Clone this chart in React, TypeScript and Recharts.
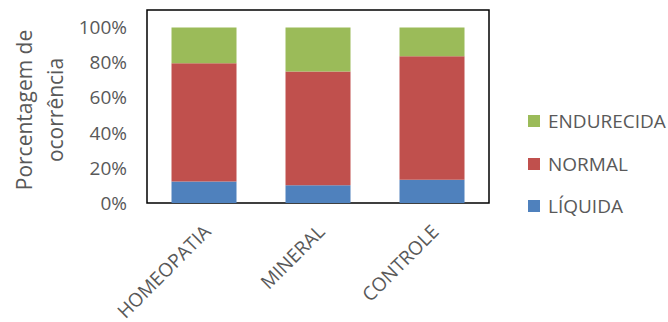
import React from "react";
import { BarChart, Bar, XAxis, YAxis, ReferenceArea } from "recharts";

const categories = ["HOMEOPATIA", "MINERAL", "CONTROLE"];
const liquida = [12.2, 10.1, 13.3];
const normal = [67.4, 64.9, 70.3];
const endurecida = [20.4, 25.0, 16.4];
const yTicks = [0, 20, 40, 60, 80, 100];

const seriesInfo = [
  { key: "liquida", name: "LÍQUIDA", color: "#4F81BD" },
  { key: "normal", name: "NORMAL", color: "#C0504D" },
  { key: "endurecida", name: "ENDURECIDA", color: "#9BBB59" },
];

const data = categories.map((c, i) => ({
  name: c,
  liquida: liquida[i],
  normal: normal[i],
  endurecida: endurecida[i],
}));

const FONT = "'Open Sans', sans-serif";
const TEXT = "#595959";

const XTick = ({ x, y, payload }: any) => {
  const ax = x + 8;
  const ay = y + 22;
  return (
    <text
      x={ax}
      y={ay}
      transform={`rotate(-45, ${ax}, ${ay})`}
      textAnchor="end"
      fill={TEXT}
      fontSize={19}
      fontFamily={FONT}
    >
      {payload.value}
    </text>
  );
};

const YLabel = () => (
  <g fill={TEXT} fontSize={21} fontFamily={FONT}>
    <text x={24} y={110} transform="rotate(-90, 24, 110)" textAnchor="middle" dominantBaseline="central">
      Porcentagem de
    </text>
    <text x={55} y={110} transform="rotate(-90, 55, 110)" textAnchor="middle" dominantBaseline="central">
      ocorrência
    </text>
  </g>
);

const LegendBox = () => (
  <div style={{ position: "absolute", left: 528, top: 100, fontFamily: FONT, fontSize: 19, color: TEXT }}>
    {[...seriesInfo].reverse().map((s) => (
      <div key={s.key} style={{ display: "flex", alignItems: "center", height: 42.5 }}>
        <span style={{ width: 12, height: 12, background: s.color, display: "inline-block", marginRight: 8 }} />
        <span>{s.name}</span>
      </div>
    ))}
  </div>
);

export default function App() {
  return (
    <div style={{ position: "absolute", left: 0, top: 0, width: 668, height: 322, background: "#fff" }}>
      <BarChart
        width={668}
        height={322}
        data={data}
        margin={{ top: 10, right: 179, bottom: 0, left: 0 }}
        barCategoryGap="21.5%"
      >
        <XAxis
          dataKey="name"
          height={119}
          axisLine={false}
          tickLine={false}
          tick={<XTick />}
          interval={0}
        />
        <YAxis
          width={147}
          domain={[0, 110]}
          ticks={yTicks}
          tickFormatter={(v) => `${v}%`}
          axisLine={false}
          tickLine={false}
          tickMargin={14}
          tick={{ fill: TEXT, fontSize: 19, fontFamily: FONT }}
        />
        {seriesInfo.map((s) => (
          <Bar key={s.key} dataKey={s.key} name={s.name} stackId="a" fill={s.color} isAnimationActive={false} />
        ))}
        <ReferenceArea y1={0} y2={110} fill="none" stroke="#000" strokeWidth={1.5} ifOverflow="visible" />
      </BarChart>
      <LegendBox />
      <svg width={100} height={322} style={{ position: "absolute", left: 0, top: 0 }}>
        <YLabel />
      </svg>
    </div>
  );
}
